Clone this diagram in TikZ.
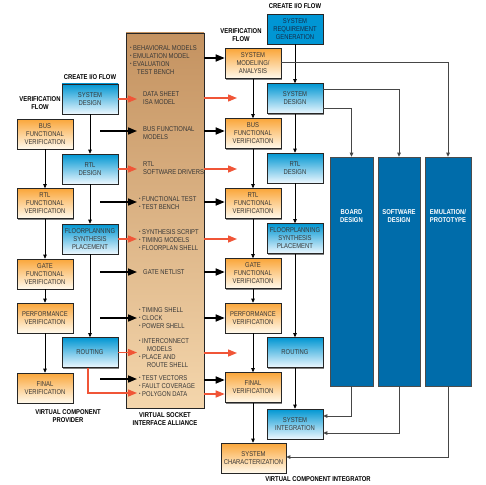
\documentclass[tikz,border=0pt]{standalone}
\usepackage{fontspec}
\setmainfont{Liberation Sans}
\newfontfamily\nfont[FakeStretch=0.84]{Liberation Sans}
\usetikzlibrary{arrows.meta,shadows}
\definecolor{orgT}{RGB}{250,166,58}
\definecolor{orgB}{RGB}{255,250,238}
\definecolor{bluT}{RGB}{0,150,210}
\definecolor{bluB}{RGB}{238,248,255}
\definecolor{reqC}{RGB}{0,150,212}
\definecolor{bigC}{RGB}{0,108,170}
\definecolor{brnT}{RGB}{196,146,96}
\definecolor{brnB}{RGB}{244,214,172}
\definecolor{redA}{RGB}{240,85,55}
\definecolor{txtC}{RGB}{55,55,55}
\definecolor{lnC}{RGB}{70,70,70}
\newcommand{\vsbul}{\makebox[3pt][l]{\raisebox{0.6pt}{\fontsize{5}{5}\selectfont •}}}
\tikzset{
  box/.style={draw=black!85, line width=0.6pt, minimum width=56pt, minimum height=30pt,
    inner sep=1pt, align=center, text=txtC, font=\nfont\fontsize{7}{8}\selectfont,
    drop shadow={shadow xshift=1.3pt,shadow yshift=-1.3pt,fill=black!50,opacity=1}},
  obox/.style={box, top color=orgT, bottom color=orgB},
  bbox/.style={box, top color=bluT, bottom color=bluB},
  rqbox/.style={box, fill=reqC, text={rgb,255:red,20;green,45;blue,75}},
  bigbox/.style={draw=black!70, line width=0.6pt, fill=bigC, inner sep=0pt},
  bigtxt/.style={text=white, align=center, inner sep=0pt, font=\nfont\bfseries\fontsize{7}{8}\selectfont},
  lbl/.style={align=center, inner sep=0pt, font=\nfont\bfseries\fontsize{7}{8}\selectfont},
  vtxt/.style={anchor=west, align=left, inner sep=0pt, text=txtC, font=\nfont\fontsize{7}{8}\selectfont},
  tarrow/.style={draw=black, line width=0.7pt, -{Triangle[length=4pt,width=3.5pt]}},
  garrow/.style={draw=lnC, line width=0.9pt, -{Triangle[length=4pt,width=3.5pt]}},
  barrow/.style={draw=black, line width=1.6pt, -{Triangle[length=9pt,width=7pt]}},
  rarrow/.style={draw=redA, line width=1.4pt, -{Triangle[length=9pt,width=7pt]}},
}
\begin{document}
\begin{tikzpicture}[x=1pt,y=-1pt]
\fill[white] (0,0) rectangle (486,484);
\useasboundingbox (0,0) rectangle (486,484);

% central VSIA block
\node[draw=black!85, line width=0.7pt, top color=brnT, bottom color=brnB,
      minimum width=78pt, minimum height=375pt, inner sep=0pt] (vsia) at (165,220.5) {};

\node[vtxt] (t1) at (130,60) {\vsbul BEHAVIORAL MODELS\\\vsbul EMULATION MODEL\\\vsbul EVALUATION\\\hspace*{7pt}TEST BENCH};
\node[vtxt] (t2) at (143,98) {DATA SHEET\\ISA MODEL};
\node[vtxt] (t3) at (143,133) {BUS FUNCTIONAL\\MODELS};
\node[vtxt] (t4) at (143,168) {RTL\\SOFTWARE DRIVERS};
\node[vtxt] (t5) at (139,203) {\vsbul FUNCTIONAL TEST\\\vsbul TEST BENCH};
\node[vtxt] (t6) at (139,240) {\vsbul SYNTHESIS SCRIPT\\\vsbul TIMING MODELS\\\vsbul FLOORPLAN SHELL};
\node[vtxt] (t7) at (143,272) {GATE NETLIST};
\node[vtxt] (t8) at (139,318) {\vsbul TIMING SHELL\\\vsbul CLOCK\\\vsbul POWER SHELL};
\node[vtxt] (t9) at (139,353) {\vsbul INTERCONNECT\\\hspace*{8pt}MODELS\\\vsbul PLACE AND\\\hspace*{8pt}ROUTE SHELL};
\node[vtxt] (t10) at (139,386) {\vsbul TEST VECTORS\\\vsbul FAULT COVERAGE\\\vsbul POLYGON DATA};

% left: provider
\node[lbl] (lv) at (40,103) {VERIFICATION\\FLOW};
\node[lbl] (lc) at (90,77) {CREATE I/O FLOW};
\node[bbox] (lsys) at (90,99) {SYSTEM\\DESIGN};
\node[bbox] (lrtld) at (90,169) {RTL\\DESIGN};
\node[bbox] (lfloor) at (90,239) {FLOORPLANNING\\SYNTHESIS\\PLACEMENT};
\node[bbox] (lrout) at (90,352.5) {ROUTING};
\node[obox] (lbus) at (45,134) {BUS\\FUNCTIONAL\\VERIFICATION};
\node[obox] (lrtl) at (45,203.5) {RTL\\FUNCTIONAL\\VERIFICATION};
\node[obox] (lgate) at (45,274) {GATE\\FUNCTIONAL\\VERIFICATION};
\node[obox] (lperf) at (45,318) {PERFORMANCE\\VERIFICATION};
\node[obox] (lfinal) at (45,388) {FINAL\\VERIFICATION};
\node[lbl] (lprov) at (68,416.5) {VIRTUAL COMPONENT\\PROVIDER};
\node[lbl] (lvsia) at (165,419) {VIRTUAL SOCKET\\INTERFACE ALLIANCE};

\draw[tarrow] (lsys) -- (lrtld);
\draw[tarrow] (lrtld) -- (lfloor);
\draw[tarrow] (lfloor) -- (lrout);
\draw[tarrow] (lbus) -- (lrtl);
\draw[tarrow] (lrtl) -- (lgate);
\draw[tarrow] (lgate) -- (lperf);
\draw[tarrow] (lperf) -- (lfinal);

% right: integrator
\node[lbl] (rv) at (241,35) {VERIFICATION\\FLOW};
\node[lbl] (rc) at (295,6) {CREATE I/O FLOW};
\node[rqbox] (rreq) at (295,29) {SYSTEM\\REQUIREMENT\\GENERATION};
\node[bbox] (rsys) at (295,98.5) {SYSTEM\\DESIGN};
\node[bbox] (rrtld) at (295,168) {RTL\\DESIGN};
\node[bbox] (rfloor) at (295,238.5) {FLOORPLANNING\\SYNTHESIS\\PLACEMENT};
\node[bbox] (rrout) at (295,352.5) {ROUTING};
\node[bbox] (rint) at (295,424) {SYSTEM\\INTEGRATION};
\node[obox] (rmod) at (253,63.5) {SYSTEM\\MODELING/\\ANALYSIS};
\node[obox] (rbus) at (253,133.5) {BUS\\FUNCTIONAL\\VERIFICATION};
\node[obox] (rrtl) at (253,203.5) {RTL\\FUNCTIONAL\\VERIFICATION};
\node[obox] (rgate) at (253,273.5) {GATE\\FUNCTIONAL\\VERIFICATION};
\node[obox] (rperf) at (253,318) {PERFORMANCE\\VERIFICATION};
\node[obox] (rfinal) at (253,387.5) {FINAL\\VERIFICATION};
\node[obox, minimum width=65pt] (rchar) at (253.5,458) {SYSTEM\\CHARACTERIZATION};
\node[lbl] (rintg) at (318,479) {VIRTUAL COMPONENT INTEGRATOR};

\node[bigbox, minimum width=43pt, minimum height=229pt] (board) at (351.5,271.5) {};
\node[bigbox, minimum width=42pt, minimum height=229pt] (soft) at (399,271.5) {};
\node[bigbox, minimum width=46pt, minimum height=229pt] (emu) at (448,271.5) {};
\node[bigtxt] (boardT) at (351.5,216) {BOARD\\DESIGN};
\node[bigtxt] (softT) at (399,216) {SOFTWARE\\DESIGN};
\node[bigtxt] (emuT) at (448,216) {EMULATION/\\PROTOTYPE};

\draw[tarrow] (rreq) -- (rsys);
\draw[tarrow] (rsys) -- (rrtld);
\draw[tarrow] (rrtld) -- (rfloor);
\draw[tarrow] (rfloor) -- (rrout);
\draw[tarrow] (rrout) -- (rint);
\draw[tarrow] (rmod) -- (rbus);
\draw[tarrow] (rbus) -- (rrtl);
\draw[tarrow] (rrtl) -- (rgate);
\draw[tarrow] (rgate) -- (rperf);
\draw[tarrow] (rperf) -- (rfinal);
\draw[tarrow] (rfinal.south) -- (rfinal.south |- rchar.north);

\draw[garrow] (rmod.east |- 0,62) -| (emu.north);
\draw[garrow] (rsys.east |- 0,89) -| (soft.north);
\draw[garrow] (rsys.east |- 0,108) -| (board.north);
\draw[garrow] (board.south) |- (rint.east |- 0,416);
\draw[garrow] (soft.south) |- (rint.east |- 0,433);
\draw[garrow] (emu.south) |- (rchar.east |- 0,457);

% arrows into VSIA (left)
\foreach \y/\n in {131/1,202/2,272/3,318/4,379/5}{
  \coordinate (bs\n) at (100,\y);
  \coordinate (be\n) at (137,\y);
  \draw[barrow] (bs\n) -- (be\n);
}
\coordinate (re1) at (137,99);
\coordinate (re2) at (137,169);
\coordinate (re3) at (137,239);
\coordinate (re4) at (137,352.5);
\coordinate (re5) at (137,393);
\draw[rarrow] (lsys.east) -- (re1);
\draw[rarrow] (lrtld.east) -- (re2);
\draw[rarrow] (lfloor.east) -- (re3);
\draw[rarrow] (lrout.east) -- (re4);
\draw[rarrow] ([xshift=-2pt]lrout.south) |- (re5);

% arrows out of VSIA (right)
\foreach \y/\n in {98/1,169/2,239/3,353/4}{
  \coordinate (qs\n) at (204,\y);
  \coordinate (qe\n) at (237,\y);
  \draw[rarrow] (qs\n) -- (qe\n);
}
\draw[barrow] (vsia.east |- 0,58) -- (rmod.west |- 0,58);
\draw[barrow] (vsia.east |- 0,131) -- (rbus.west |- 0,131);
\draw[barrow] (vsia.east |- 0,202) -- (rrtl.west |- 0,202);
\draw[barrow] (vsia.east |- 0,272) -- (rgate.west |- 0,272);
\draw[barrow] (vsia.east |- 0,318) -- (rperf.west |- 0,318);
\draw[barrow] (vsia.east |- 0,380) -- (rfinal.west |- 0,380);
\draw[rarrow] (vsia.east |- 0,394) -- (rfinal.west |- 0,394);
\end{tikzpicture}
\end{document}
